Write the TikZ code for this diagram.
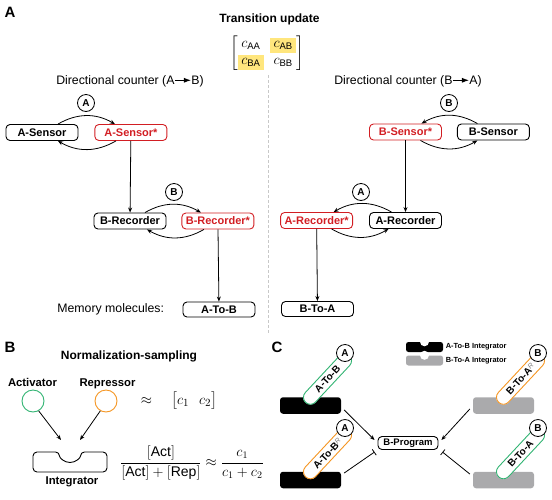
\documentclass[tikz,border=0pt]{standalone}
\usepackage{amsmath}
\usepackage{fontspec}
\setmainfont{Liberation Sans}
\usepackage{tikz}
\usetikzlibrary{positioning}
\usetikzlibrary{arrows.meta}

\definecolor{myred}{RGB}{210,30,35}
\definecolor{mygreen}{RGB}{50,180,115}
\definecolor{myorange}{RGB}{245,150,35}
\definecolor{hlyellow}{RGB}{255,230,125}
\definecolor{intgray}{RGB}{170,170,172}
\definecolor{sepgray}{RGB}{200,200,200}

\newcommand{\dirarr}{\tikz[baseline=-0.6ex]\draw[line width=0.9pt,-{Latex[length=7pt,width=5pt]}] (0,0) -- (16pt,0);}
\newcommand{\hlc}[1]{{\setlength{\fboxsep}{3.5pt}\colorbox{hlyellow}{$#1$}}}
\newcommand{\sub}[1]{\text{\fontsize{9.5}{10}\selectfont #1}}
\newcommand{\rsup}{\raisebox{2.5pt}{\mdseries\itshape\fontsize{7}{7}\selectfont\color{gray}R}}

\begin{document}
\begin{tikzpicture}[x=1pt,y=1pt,node distance=16pt,
    box/.style={draw, rounded corners=4pt, line width=0.9pt, minimum width=72pt, minimum height=16pt, inner sep=1pt, font=\bfseries\fontsize{11}{12}\selectfont},
    boxred/.style={box, draw=myred, text=myred},
    mol/.style={draw, circle, fill=white, line width=0.8pt, minimum size=17pt, inner sep=0pt, font=\bfseries\fontsize{10}{10}\selectfont},
    arr/.style={line width=0.8pt, -{Stealth[length=5pt,width=4pt]}},
    inh/.style={line width=0.8pt, -{Bar[width=7pt,line width=0.8pt]}},
    panel/.style={font=\bfseries\fontsize{15}{15}\selectfont},
    head/.style={font=\bfseries\fontsize{12}{14}\selectfont},
    lbl/.style={font=\fontsize{12.3}{14}\selectfont},
    blbl/.style={font=\bfseries\fontsize{11.3}{13}\selectfont},
    eqn/.style={font=\fontsize{14}{16}\selectfont},
    pill/.style={draw, fill=white, rounded corners=7pt, line width=0.9pt, minimum width=64pt, minimum height=14pt, inner sep=0pt, rotate=47, font=\bfseries\fontsize{10}{10}\selectfont},
    intg/.style={rounded corners=3pt, minimum width=61pt, minimum height=16.5pt, inner sep=0pt},
]
\useasboundingbox (0,0) rectangle (552,-499);

% panel A
\node[panel] (pa) at (10,-12) {A};
\node[head] (trt) at (269.5,-19) {Transition update};
\node[font=\fontsize{15}{16}\selectfont] (tmat) at (267,-53) {\setlength{\arraycolsep}{3pt}$\begin{bmatrix} c_{\sub{AA}} & \hlc{c_{\sub{AB}}} \\ \hlc{c_{\sub{BA}}} & c_{\sub{BB}} \end{bmatrix}$};
\draw[sepgray, line width=0.8pt, dash pattern=on 3pt off 2pt] (268,-75) -- (268,-334);

\node[lbl] (dirab) at (130,-81) {Directional counter (A\dirarr B)};
\node[lbl] (dirba) at (408,-81) {Directional counter (B\dirarr A)};

% A -> B counter
\node[box] (asen) at (42,-132.5) {A-Sensor};
\node[boxred, right=16pt of asen] (asenx) {A-Sensor*};
\node[box] (brec) at (130,-221) {B-Recorder};
\node[boxred, right=15pt of brec] (brecx) {B-Recorder*};
\node[box, minimum height=15pt] (atob) at (219,-309.5) {A-To-B};
\node[lbl, left=15pt of atob] (memt) {Memory molecules:};
\node[mol] (ma1) at (86,-103) {A};
\node[mol] (mb1) at (174,-192) {B};

\draw[arr] ([xshift=16pt]asen.north) to[bend left=30] ([xshift=-16pt]asenx.north);
\draw[arr] ([xshift=-15pt]asenx.south) to[bend left=30] ([xshift=16pt]asen.south);
\draw[arr] ([xshift=15pt]brec.north) to[bend left=30] ([xshift=-17pt]brecx.north);
\draw[arr] ([xshift=-14pt]brecx.south) to[bend left=30] ([xshift=17pt]brec.south);
\draw[arr] (asenx) -- (brec);
\draw[arr] (brecx) -- (atob);

% B -> A counter
\node[boxred] (bsenx) at (405.5,-132) {B-Sensor*};
\node[box, right=15pt of bsenx] (bsen) {B-Sensor};
\node[box] (arec) at (405.5,-220.5) {A-Recorder};
\node[boxred, left=16pt of arec] (arecx) {A-Recorder*};
\node[box, minimum height=15pt] (btoa) at (317.5,-309) {B-To-A};
\node[mol] (mb2) at (449,-103) {B};
\node[mol] (ma2) at (361,-192) {A};

\draw[arr] ([xshift=-16pt]bsen.north) to[bend right=30] ([xshift=16pt]bsenx.north);
\draw[arr] ([xshift=15pt]bsenx.south) to[bend right=30] ([xshift=-16pt]bsen.south);
\draw[arr] ([xshift=-14pt]arec.north) to[bend right=30] ([xshift=17pt]arecx.north);
\draw[arr] ([xshift=15pt]arecx.south) to[bend right=30] ([xshift=-17pt]arec.south);
\draw[arr] (bsenx) -- (arec);
\draw[arr] (arecx) -- (btoa);

% panel B
\node[panel] (pb) at (10,-347) {B};
\node[head] (nst) at (129,-356) {Normalization-sampling};
\node[blbl, anchor=base] (actt) at (32.5,-386) {Activator};
\node[blbl, anchor=base] (rept) at (107.5,-386) {Repressor};
\node[draw=mygreen, circle, line width=0.9pt, minimum size=22pt] (act) at (33,-401) {};
\node[draw=myorange, circle, line width=0.9pt, minimum size=22pt] (rep) at (106,-401) {};
\draw[line width=0.9pt, rounded corners=4pt] (80.5,-452) arc[start angle=0, end angle=-180, radius=10.5] -- (33,-452) -- (33,-472) -- (107,-472) -- (107,-452) -- cycle;
\coordinate (notch) at (70,-452);
\draw[arr] (act.-60) -- ([shift={(-9pt,12pt)}]notch);
\draw[arr] (rep.-120) -- ([shift={(10pt,12pt)}]notch);
\node[blbl] (intt) at (72,-482) {Integrator};
\node[font=\fontsize{15}{16}\selectfont] (cvec) at (179,-401) {$\approx\quad\begin{bmatrix} c_1 & c_2 \end{bmatrix}$};
\node[eqn] (ratio) at (192,-463) {$\dfrac{[\text{Act}]}{[\text{Act}]+[\text{Rep}]}\approx\dfrac{c_1}{c_1+c_2}$};

% panel C
\node[panel] (pc) at (277,-347) {C};
\node[intg, fill=black, minimum width=37pt, minimum height=10pt, rounded corners=2.5pt] (lgab) at (424.5,-347) {};
\node[intg, fill=intgray, minimum width=37pt, minimum height=10pt, rounded corners=2.5pt] (lgba) at (424.5,-360.5) {};
\fill[white] (lgab.north) circle (4.5pt);
\fill[white] (lgba.north) circle (4.5pt);
\node[right=2.5pt of lgab, inner sep=0pt, font=\bfseries\fontsize{7.4}{8}\selectfont] (lgabt) {A-To-B Integrator};
\node[right=2.5pt of lgba, inner sep=0pt, font=\bfseries\fontsize{7.4}{8}\selectfont] (lgbat) {B-To-A Integrator};

\node[intg, fill=black] (ab1) at (310.5,-405.5) {};
\node[intg, fill=black] (ab2) at (310.5,-480) {};
\node[intg, fill=intgray] (ba1) at (503.5,-405.5) {};
\node[intg, fill=intgray] (ba2) at (503.5,-480) {};
\foreach \n in {ab1,ab2,ba1,ba2}
    \fill[white] (\n.north) circle (7.5pt);

\node[pill, draw=mygreen] (p1) at (327.5,-379) {A-To-B};
\node[pill, draw=myorange] (p2) at (327.5,-453.5) {A-To-B\rsup};
\node[pill, draw=myorange] (p3) at (520.5,-379) {B-To-A\rsup};
\node[pill, draw=mygreen] (p4) at (520.5,-453.5) {B-To-A};
\node[mol] (mc1) at (345,-353) {A};
\node[mol] (mc2) at (345,-428) {A};
\node[mol] (mc3) at (538,-353) {B};
\node[mol] (mc4) at (538,-428) {B};

\node[box, minimum width=60pt, minimum height=13pt, font=\bfseries\fontsize{9.5}{10}\selectfont] (bprog) at (408,-443) {B-Program};
\draw[arr] ([shift={(3pt,-4.5pt)}]ab1.east) -- ([shift={(-3pt,3pt)}]bprog.west);
\draw[inh] ([shift={(3pt,7pt)}]ab2.east) -- ([shift={(-3pt,-9pt)}]bprog.west);
\draw[arr] ([shift={(-3pt,-3.5pt)}]ba1.west) -- ([shift={(3pt,3pt)}]bprog.east);
\draw[inh] ([shift={(-3pt,6pt)}]ba2.west) -- ([shift={(4pt,-9pt)}]bprog.east);
\end{tikzpicture}
\end{document}
